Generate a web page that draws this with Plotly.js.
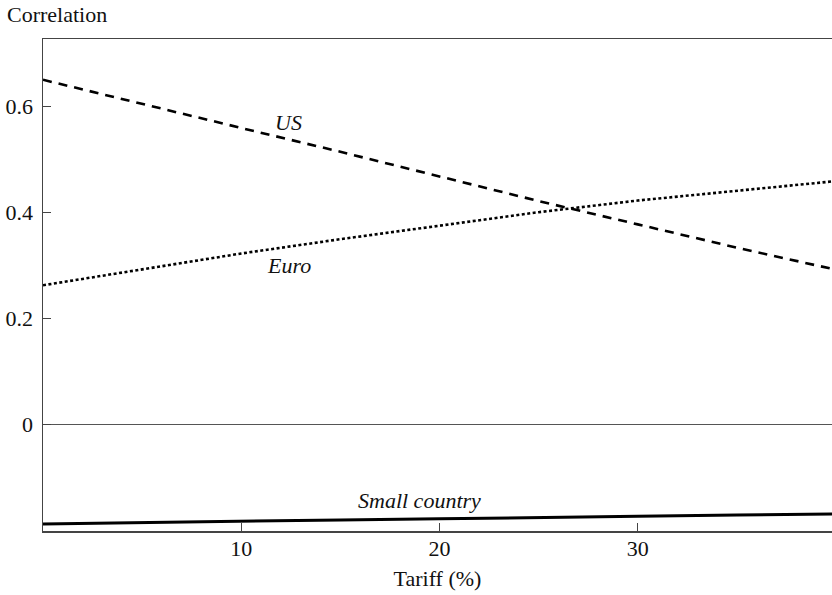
<!DOCTYPE html>
<html>
<head>
<meta charset="utf-8">
<script src="https://cdn.plot.ly/plotly-3.0.1.min.js"></script>
<style>html,body{margin:0;padding:0;background:#fff;}#chart{width:832px;height:595px;}</style>
</head>
<body>
<div id="chart"></div>
<script>
const tariff = [0, 5, 10, 15, 20, 25, 30, 35, 39.8];
const usCorr = [0.651, 0.605, 0.560, 0.515, 0.469, 0.422, 0.378, 0.334, 0.294];
const euroCorr = [0.263, 0.293, 0.323, 0.350, 0.376, 0.401, 0.423, 0.442, 0.459];
const smallCorr = [-0.188, -0.185, -0.183, -0.180, -0.178, -0.175, -0.173, -0.171, -0.169];
const xTicks = [10, 20, 30];
const yTicks = [0, 0.2, 0.4, 0.6];
const yTickText = ['0', '0.2', '0.4', '0.6'];

const FONT = "'Liberation Serif', 'Times New Roman', Times, serif";
const TXT = '#111';

const traces = [
  {x: tariff, y: usCorr, mode: 'lines', name: 'US', line: {color: '#000', width: 2.6, dash: '9px,7px'}},
  {x: tariff, y: euroCorr, mode: 'lines', name: 'Euro', line: {color: '#000', width: 2.6, dash: '3px,2.5px'}},
  {x: tariff, y: smallCorr, mode: 'lines', name: 'Small country', line: {color: '#000', width: 3}}
];

const layout = {
  width: 832, height: 595,
  margin: {l: 43, r: 0, t: 39, b: 64},
  paper_bgcolor: '#fff', plot_bgcolor: '#fff',
  showlegend: false,
  font: {family: FONT, size: 22, color: TXT},
  xaxis: {
    range: [0, 39.8],
    tickvals: xTicks,
    ticks: 'inside', ticklen: 8, tickwidth: 1.3, tickcolor: '#444',
    showline: true, linecolor: '#444', linewidth: 1.5, mirror: true,
    showgrid: false, zeroline: false,
    tickfont: {family: FONT, size: 22, color: TXT},
    ticklabelstandoff: -3,
    title: {text: 'Tariff (%)', font: {family: FONT, size: 22, color: TXT}, standoff: 10}
  },
  yaxis: {
    range: [-0.201, 0.728],
    tickvals: yTicks, ticktext: yTickText,
    ticks: 'inside', ticklen: 8, tickwidth: 1.3, tickcolor: '#444',
    showline: true, linecolor: '#444', linewidth: 1.5,
    showgrid: false,
    zeroline: true, zerolinecolor: '#555', zerolinewidth: 1.5,
    tickfont: {family: FONT, size: 22, color: TXT},
    ticklabelstandoff: 4
  },
  annotations: [
    {xref: 'paper', yref: 'paper', x: -38/789, y: 1 + 24/492, xanchor: 'left', yanchor: 'middle', showarrow: false,
     text: 'Correlation', font: {family: FONT, size: 22, color: TXT}},
    {x: 12.4, y: 0.571, showarrow: false, text: '<i>US</i>', font: {family: FONT, size: 22, color: TXT}},
    {x: 12.4, y: 0.301, showarrow: false, text: '<i>Euro</i>', font: {family: FONT, size: 22, color: TXT}},
    {x: 19.0, y: -0.143, showarrow: false, text: '<i>Small country</i>', font: {family: FONT, size: 22, color: TXT}}
  ]
};

Plotly.newPlot('chart', traces, layout, {staticPlot: true, displayModeBar: false});
</script>
</body>
</html>
